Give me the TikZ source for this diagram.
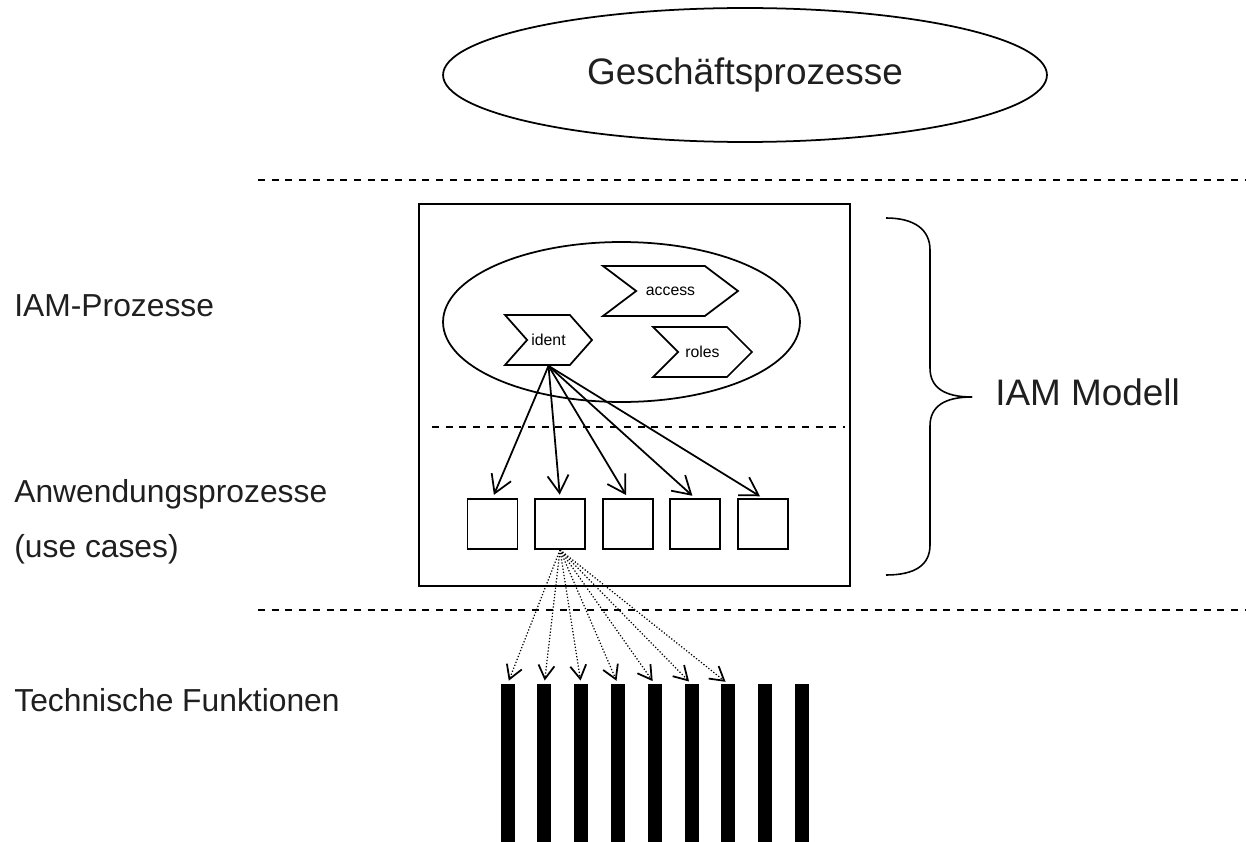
\documentclass[tikz,border=0pt]{standalone}
\usepackage{fontspec}
\setmainfont{Liberation Sans}
\usetikzlibrary{shapes.geometric, shapes.symbols, arrows.meta}

\newcommand{\bigfont}{\fontsize{21}{25}\selectfont}
\newcommand{\sidefont}{\fontsize{18.1}{22}\selectfont}

\tikzset{
	sep line/.style = {dash pattern = on 4pt off 3.8pt, line width = 0.9pt},
	proc/.style = {draw, line width = 1pt, signal, signal to = east, signal from = west, minimum height = 1cm, inner sep = 0pt, font = \fontsize{9}{11}\selectfont},
	usecase/.style = {draw, line width = 1pt, minimum size = 1cm, inner sep = 0pt},
	func/.style = {fill = black, minimum width = 0.28cm, minimum height = 3.2cm, inner sep = 0pt, anchor = north},
	sidetext/.style = {anchor = base west, inner sep = 0pt, font = \sidefont, text = black!88}
}

\begin{document}
\begin{tikzpicture}[x = 0.02cm, y = -0.02cm, > = {Straight Barb[length = 0.35cm, width = 0.42cm, line width = 1pt]}]

	\useasboundingbox (0, 0) rectangle (1246, 841);

	% Business processes

	\node (geschaeft) [ellipse, draw, line width = 1pt, minimum width = 12.08cm, minimum height = 2.68cm, font = \bigfont, text = black!88] at (745, 75) {Geschäftsprozesse};

	% Layer separators

	\draw [sep line] (258, 180) -- (1246, 180);
	\draw [sep line] (258, 610) -- (1246, 610);

	% Side labels

	\node (iamproz) [sidetext] at (14, 316) {IAM-Prozesse};
	\node (anwproz) [sidetext] at (14, 502) {Anwendungsprozesse};
	\node (usecases) [sidetext] at (14, 557) {(use cases)};
	\node (techfkt) [sidetext] at (14, 711) {Technische Funktionen};

	% IAM model box w/processes

	\node (iambox) [draw, line width = 1pt, minimum width = 8.62cm, minimum height = 7.64cm, inner sep = 0pt] at (634.5, 395) {};
	\node (iamell) [ellipse, draw, line width = 1pt, minimum width = 7.14cm, minimum height = 3.2cm] at (621.5, 322) {};
	\draw [sep line] (432, 427) -- (845, 427);

	\node (access) [proc, minimum width = 2.7cm, signal pointer angle = 74] at (670.5, 291) {access};
	\node (ident) [proc, minimum width = 1.74cm, signal pointer angle = 97] at (548.5, 340) {ident};
	\node (roles) [proc, minimum width = 1.98cm, signal pointer angle = 90] at (702.5, 352) {roles};

	% Use cases

	\foreach \i/\x in {1/492.5, 2/560, 3/628, 4/695, 5/763}
		\node (uc\i) [usecase] at (\x, 524) {};

	\foreach \i in {1, ..., 5}
	{
		\draw [->, line width = 1pt, shorten > = 2pt] (ident.south) -- (uc\i.north);
	}

	% Technical functions

	\foreach \i in {1, ..., 9}
		\node (tf\i) [func] at ({507.5 + 36.8 * (\i - 1)}, 684) {};

	\foreach \i in {1, ..., 7}
	{
		\draw [->, dash pattern = on 0.7pt off 1.1pt, line width = 0.7pt, shorten > = 2pt, > = {Straight Barb[length = 0.27cm, width = 0.32cm, line width = 1pt]}] (uc2.south) -- (tf\i.north);
	}

	% Brace w/model label

	\coordinate (bracetip) at (972, 397);
	\draw [line width = 0.9pt] (886, 218) .. controls (915, 218) and (930, 230) .. (930, 250) -- (930, 368) .. controls (930, 388) and (945, 397) .. (bracetip);
	\draw [line width = 0.9pt] (bracetip) .. controls (945, 397) and (930, 406) .. (930, 426) -- (930, 545) .. controls (930, 565) and (915, 575) .. (886, 575);

	\node (modell) [anchor = base west, inner sep = 0pt, font = \bigfont, text = black!88] at (995, 405) {IAM Modell};

\end{tikzpicture}
\end{document}
